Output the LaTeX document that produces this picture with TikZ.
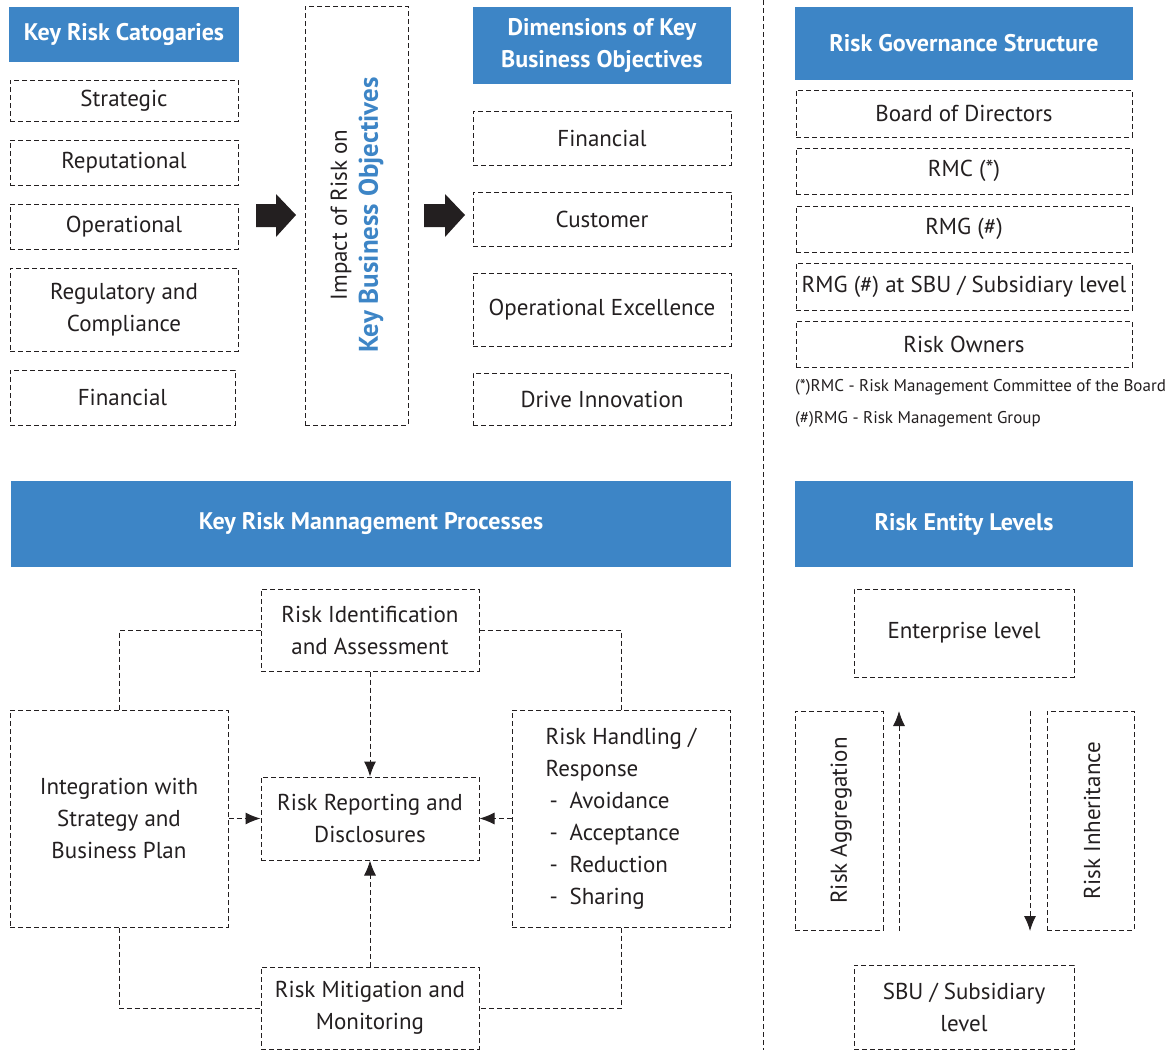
\documentclass[tikz,border=0pt]{standalone}
\usepackage{fontspec}
\setmainfont{PT Sans}
\usetikzlibrary{arrows.meta}
\definecolor{hblue}{HTML}{3D85C6}
\definecolor{ink}{HTML}{231F20}
\begin{document}
\begin{tikzpicture}[x=1pt,y=-1pt,
  every node/.style={text=ink, font=\fontsize{23}{32}\selectfont, inner sep=0pt, align=center},
  dbox/.style={draw=ink, line width=1pt, dash pattern=on 5pt off 3pt},
  hdr/.style={fill=hblue, text=white, font=\fontsize{24}{32}\selectfont\bfseries},
  dline/.style={draw=ink, line width=1pt, dash pattern=on 5pt off 3pt},
  darr/.style={dline, -{Latex[length=15pt,width=12pt]}},
  blockarrow/.style={fill=ink, draw=none},
  note/.style={font=\fontsize{17}{20}\selectfont, anchor=west, align=left}
]
\useasboundingbox (0,0) rectangle (1169,1050);
% divider
\draw[dline] (763,0) -- (763,1050);

% ---- Key risk categories
\node[hdr, minimum width=230pt, minimum height=55pt] (krc) at (124,34.5) {Key Risk Catogaries};
\node[dbox, minimum width=228pt, minimum height=41pt] (strat) at (124,100.5) {Strategic};
\node[dbox, minimum width=228pt, minimum height=45pt] (rep) at (124,162.5) {Reputational};
\node[dbox, minimum width=228pt, minimum height=45pt] (ops) at (124,226.5) {Operational};
\node[dbox, minimum width=228pt, minimum height=83pt] (reg) at (124,309.5) {Regulatory and\\Compliance};
\node[dbox, minimum width=225pt, minimum height=55pt] (fin) at (122.5,397.5) {Financial};

% block arrows
\fill[blockarrow] (256,204) -- (276,204) -- (276,194) -- (296,215) -- (276,237) -- (276,227) -- (256,227) -- cycle;
\fill[blockarrow] (424,204) -- (445,204) -- (445,194) -- (465,215) -- (445,237) -- (445,227) -- (424,227) -- cycle;

% impact box
\node[dbox, minimum width=103pt, minimum height=419pt] (impact) at (356.5,215.5) {};
\node[rotate=90, font=\fontsize{23}{31}\selectfont] (impacttxt) at (357,215) {Impact of Risk on\\{\color{hblue}\fontsize{27}{31}\selectfont\bfseries Key Business Objectives}};

% ---- Dimensions
\node[hdr, minimum width=258pt, minimum height=77pt] (dimh) at (602,45.5) {Dimensions of Key\\Business Objectives};
\node[dbox, minimum width=258pt, minimum height=54pt] (dfin) at (602,138) {Financial};
\node[dbox, minimum width=258pt, minimum height=54pt] (dcus) at (602,219) {Customer};
\node[dbox, minimum width=258pt, minimum height=73pt] (dopx) at (602,309.5) {Operational Excellence};
\node[dbox, minimum width=258pt, minimum height=52pt] (dinn) at (602,399) {Drive Innovation};

% ---- Governance
\node[hdr, minimum width=338pt, minimum height=73pt] (govh) at (964,43.5) {Risk Governance Structure};
\node[dbox, minimum width=336pt, minimum height=47pt] (bod) at (964,113.5) {Board of Directors};
\node[dbox, minimum width=336pt, minimum height=46pt] (rmc) at (964,171) {RMC (*)};
\node[dbox, minimum width=336pt, minimum height=46pt] (rmg) at (964,229) {RMG (\#)};
\node[dbox, minimum width=336pt, minimum height=47pt] (rmgs) at (964,286.5) {RMG (\#) at SBU / Subsidiary level};
\node[dbox, minimum width=336pt, minimum height=46pt] (own) at (964,344) {Risk Owners};
\node[note] (n1) at (795,387) {(*)RMC - Risk Management Committee of the Board};
\node[note] (n2) at (795,419) {(\#)RMG - Risk Management Group};

% ---- Processes
\node[hdr, minimum width=720pt, minimum height=86pt] (proch) at (371,524) {Key Risk Mannagement Processes};
\node[dbox, minimum width=218pt, minimum height=82pt] (ident) at (370,630) {Risk Identification\\and Assessment};
\node[dbox, minimum width=218pt, minimum height=217pt] (integ) at (119,818.5) {Integration with\\Strategy and\\Business Plan};
\node[dbox, minimum width=218pt, minimum height=83pt] (report) at (370,818.5) {Risk Reporting and\\Disclosures};
\node[dbox, minimum width=218pt, minimum height=217pt, align=left] (handl) at (621,818.5) {Risk Handling /\\Response\\\makebox[24pt][l]{\,-}Avoidance\\\makebox[24pt][l]{\,-}Acceptance\\\makebox[24pt][l]{\,-}Reduction\\\makebox[24pt][l]{\,-}Sharing};
\node[dbox, minimum width=218pt, minimum height=82pt] (mitig) at (370,1008) {Risk Mitigation and\\Monitoring};

\draw[dline] (ident.west) -| (integ.north);
\draw[dline] (ident.east) -| (handl.north);
\draw[dline] (integ.south) |- (mitig.west);
\draw[dline] (handl.south) |- (mitig.east);
\draw[darr] (ident) -- (report);
\draw[darr] (integ) -- (report);
\draw[darr] (handl) -- (report);
\draw[darr] (mitig) -- (report);

% ---- Entity levels
\node[hdr, minimum width=338pt, minimum height=86pt] (enth) at (964,524) {Risk Entity Levels};
\node[dbox, minimum width=220pt, minimum height=88pt] (ent) at (964,633) {Enterprise level};
\node[dbox, minimum width=220pt, minimum height=84pt] (sbu) at (964,1007) {SBU / Subsidiary\\level};
\node[dbox, minimum width=88pt, minimum height=219pt] (agg) at (839,820.5) {};
\node[rotate=90] (aggtxt) at (841,820.5) {Risk Aggregation};
\node[dbox, minimum width=87pt, minimum height=219pt] (inh) at (1090.5,820.5) {};
\node[rotate=90] (inhtxt) at (1092,820.5) {Risk Inheritance};
\coordinate (aggB) at (899,931);
\coordinate (aggT) at (899,711);
\coordinate (inhT) at (1030,711);
\coordinate (inhB) at (1030,931);
\draw[darr] (aggB) -- (aggT);
\draw[darr] (inhT) -- (inhB);
\end{tikzpicture}
\end{document}
